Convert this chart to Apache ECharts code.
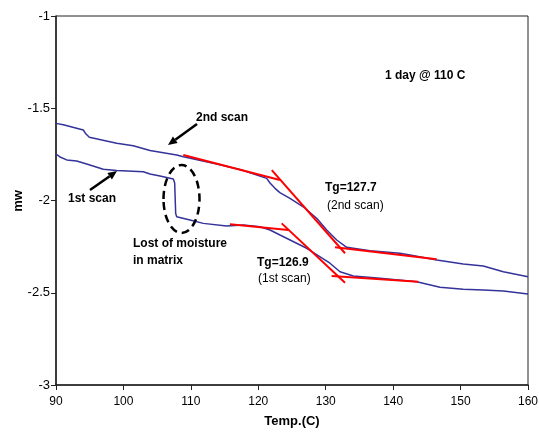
<!DOCTYPE html>
<html>
<head>
<meta charset="utf-8">
<script src="https://cdn.jsdelivr.net/npm/echarts@6/dist/echarts.min.js"></script>
<style>html,body{margin:0;padding:0;background:#fff;}#c{width:539px;height:438px;}</style>
</head>
<body>
<div id="c"></div>
<script>
// Data (Temp C, mW)
const scan2 = [
  [90.0,-1.582],[91.08,-1.589],[94.05,-1.618],[94.45,-1.640],[94.94,-1.657],
  [99.0,-1.690],[101.46,-1.703],[103.94,-1.729],[107.9,-1.753],[108.88,-1.763],
  [113.83,-1.802],[117.54,-1.835],[121.25,-1.880],[121.74,-1.905],[122.48,-1.934],
  [123.2,-1.957],[124.7,-1.988],[126.67,-2.034],[128.66,-2.096],[130.15,-2.160],
  [131.63,-2.214],[133.11,-2.254],[136.57,-2.272],[141.0,-2.286],[142.5,-2.295],
  [146.46,-2.322],[150.4,-2.344],[153.37,-2.355],[156.34,-2.386],[160.0,-2.413]
];
const scan1 = [
  [90.0,-1.748],[90.59,-1.764],[91.59,-1.780],[93.07,-1.786],[94.55,-1.802],
  [97.01,-1.831],[99.0,-1.838],[102.95,-1.844],[103.2,-1.847],[103.94,-1.856],
  [105.42,-1.867],[107.4,-1.883],[107.6,-1.905],[107.75,-2.070],[107.9,-2.088],
  [109.87,-2.106],[111.84,-2.124],[115.3,-2.138],[117.78,-2.133],[120.25,-2.142],
  [121.74,-2.160],[123.22,-2.187],[127.18,-2.259],[130.63,-2.340],[132.12,-2.386],
  [134.09,-2.409],[138.05,-2.422],[143.49,-2.440],[146.95,-2.470],[150.4,-2.481],
  [153.37,-2.485],[156.34,-2.491],[160.0,-2.507]
];
// Tangent lines
const tan2Base  = [[108.88,-1.753],[123.2,-1.889]];
const tan2Steep = [[122.0,-1.835],[132.86,-2.286]];
const tan2Post  = [[131.38,-2.254],[146.46,-2.319]];
const tan1Base  = [[115.8,-2.129],[124.45,-2.160]];
const tan1Steep = [[123.47,-2.124],[132.86,-2.446]];
const tan1Post  = [[130.88,-2.409],[143.73,-2.440]];
const xTicks = {min:90, max:160, interval:10};
const yTicks = {min:-3, max:-1, interval:0.5};

const FONT = 'Liberation Sans, Arial, sans-serif';
const chart = echarts.init(document.getElementById('c'), null, {renderer:'canvas'});

function curve(data){
  return {type:'line', data:data, showSymbol:false, symbol:'none', silent:true,
    lineStyle:{color:'#333399', width:1.5}, z:2, animation:false};
}
function tangent(data){
  return {type:'line', data:data, showSymbol:false, symbol:'none', silent:true,
    lineStyle:{color:'#ff0000', width:2}, z:3, animation:false};
}
function txt(text, x, y, bold, size){
  return {type:'text', z:10, style:{text:text, x:x, y:y, fill:'#000',
    font:(bold?'bold ':'')+(size||12)+'px '+FONT, textVerticalAlign:'middle', verticalAlign:'middle'}};
}
function arrow(x1,y1,x2,y2){
  const ang = Math.atan2(y2-y1, x2-x1), L = 9, W = 4;
  const bx = x2 - L*Math.cos(ang), by = y2 - L*Math.sin(ang);
  const px = -Math.sin(ang)*W, py = Math.cos(ang)*W;
  return [
    {type:'line', z:10, shape:{x1:x1,y1:y1,x2:bx,y2:by}, style:{stroke:'#000', lineWidth:2.5}},
    {type:'polygon', z:10, shape:{points:[[x2,y2],[bx+px,by+py],[bx-px,by-py]]}, style:{fill:'#000'}}
  ];
}

chart.setOption({
  animation:false,
  backgroundColor:'#fff',
  grid:{left:56, right:11, top:16, bottom:53, containLabel:false, outerBoundsMode:'none',
    show:true, borderColor:'#222', borderWidth:1},
  xAxis:{type:'value', min:xTicks.min, max:xTicks.max, interval:xTicks.interval,
    name:'Temp.(C)', nameLocation:'middle', nameGap:30,
    nameTextStyle:{fontFamily:FONT, fontWeight:'bold', fontSize:13, color:'#000'},
    axisLine:{show:true, lineStyle:{color:'#222', width:1.5}},
    axisTick:{show:true, inside:false, length:5, lineStyle:{color:'#222'}},
    axisLabel:{fontFamily:FONT, fontSize:12, color:'#000', margin:11},
    splitLine:{show:false}},
  yAxis:{type:'value', min:yTicks.min, max:yTicks.max, interval:yTicks.interval,
    axisLine:{show:true, lineStyle:{color:'#222', width:1.5}},
    axisTick:{show:true, inside:false, length:5, lineStyle:{color:'#222'}},
    axisLabel:{fontFamily:FONT, fontSize:13, color:'#000', margin:6},
    splitLine:{show:false}},
  series:[curve(scan2), curve(scan1),
    tangent(tan2Base), tangent(tan2Steep), tangent(tan2Post),
    tangent(tan1Base), tangent(tan1Steep), tangent(tan1Post)],
  graphic:[
    {type:'text', z:10, x:18, y:201, rotation:Math.PI/2,
      style:{text:'mw', fill:'#000', font:'bold 13px '+FONT, align:'center', verticalAlign:'middle',
        textAlign:'center', textVerticalAlign:'middle'}},
    txt('2nd scan', 196, 118, true),
    txt('1st scan', 68, 199, true),
    txt('Lost of moisture', 133, 244, true),
    txt('in matrix', 133, 261, true),
    txt('Tg=127.7', 325, 188, true),
    txt('(2nd scan)', 327, 206, false),
    txt('Tg=126.9', 257, 263, true),
    txt('(1st scan)', 258, 279, false),
    txt('1 day @ 110 C', 385, 76, true),
    ...arrow(197,124,168,145),
    ...arrow(90,190,117,171),
    {type:'ellipse', z:10, shape:{cx:181.5, cy:199, rx:18, ry:34},
      style:{fill:'none', stroke:'#000', lineWidth:2.5, lineDash:[8,5]}}
  ]
});
</script>
</body>
</html>
